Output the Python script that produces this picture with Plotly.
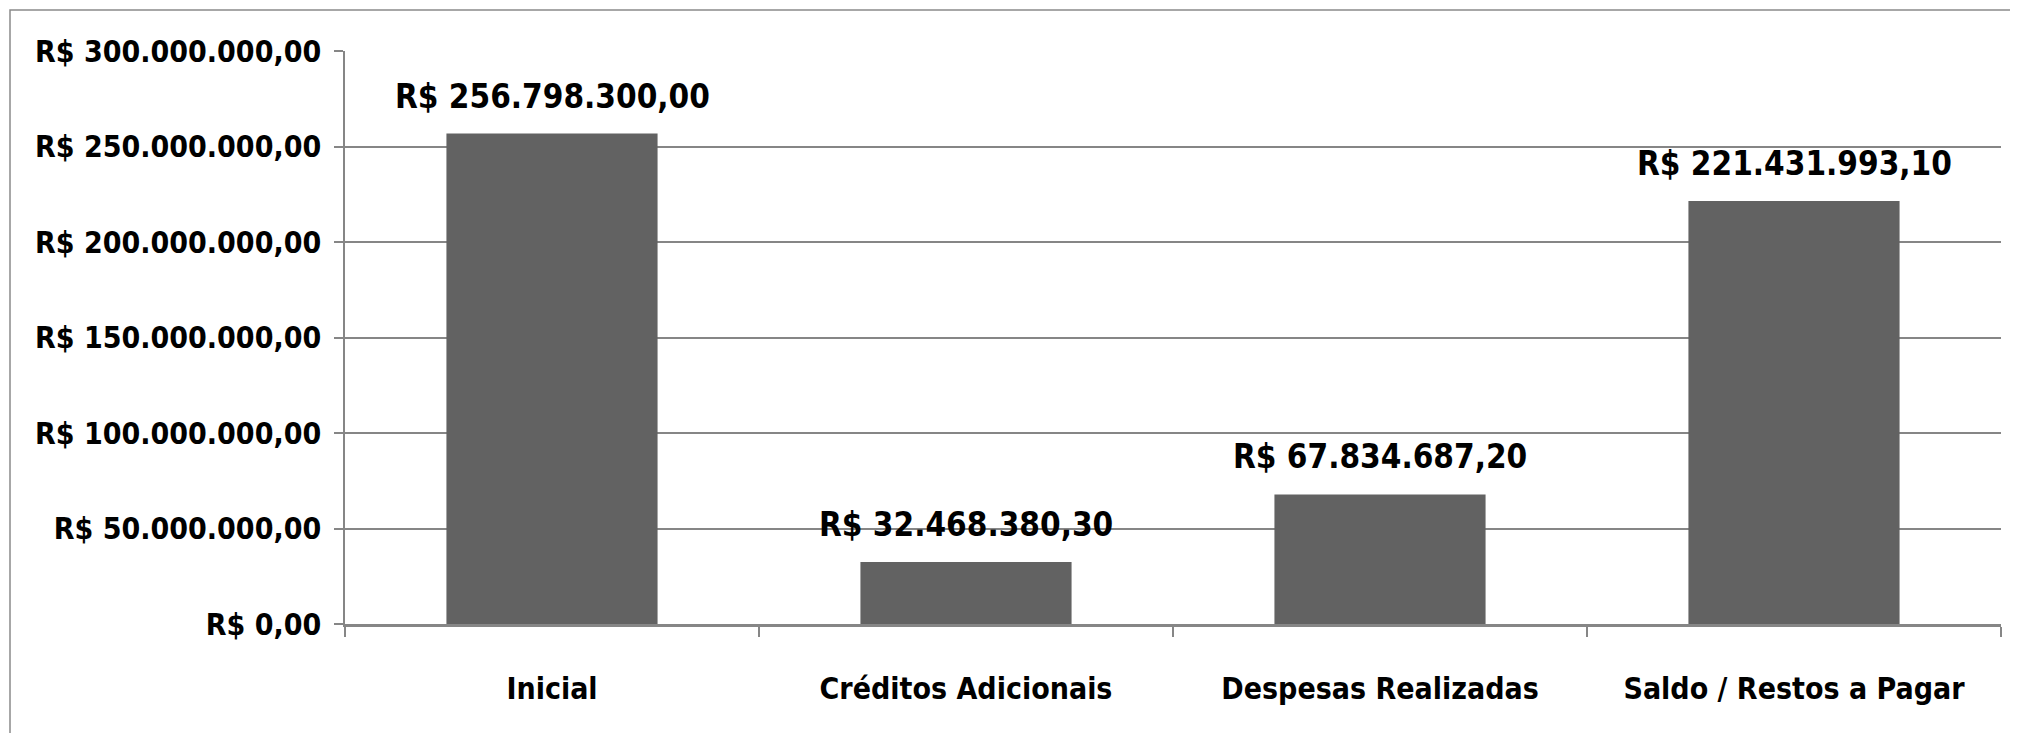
import plotly.graph_objects as go

categories = ["Inicial", "Créditos Adicionais", "Despesas Realizadas", "Saldo / Restos a Pagar"]
values = [256798300.00, 32468380.30, 67834687.20, 221431993.10]
tick_values = [0, 50000000, 100000000, 150000000, 200000000, 250000000, 300000000]
tick_labels = ["R$ 0,00", "R$ 50.000.000,00", "R$ 100.000.000,00", "R$ 150.000.000,00",
               "R$ 200.000.000,00", "R$ 250.000.000,00", "R$ 300.000.000,00"]


def brl(v):
    s = f"{v:,.2f}"
    s = s.replace(",", "X").replace(".", ",").replace("X", ".")
    return "R$ " + s


FONT = "DejaVu Sans Condensed, DejaVu Sans, sans-serif"
AXIS = "#868686"

fig = go.Figure()
fig.add_trace(go.Bar(x=categories, y=values, marker=dict(color="#626262", line=dict(width=0)),
                     hoverinfo="skip"))

for c, v in zip(categories, values):
    fig.add_annotation(x=c, y=v, text="<b>" + brl(v) + "</b>", showarrow=False,
                       yanchor="bottom", yshift=16,
                       font=dict(family=FONT, size=33, color="black"))

# page body has an 8px margin; compensate so the plot lands where the reference has it
OFF = 8
W, H = 2018, 733
L, R, T, B = 345 - OFF, 17 + OFF, 51 - OFF, 109 + OFF
pw, ph = W - L - R, H - T - B

fig.add_shape(type="rect", xref="paper", yref="paper",
              x0=(10 - OFF - L) / pw, x1=(W + 20 - L) / pw,
              y0=-(B + 30) / ph, y1=1 + (T - (10 - OFF)) / ph,
              line=dict(color="#8a8a8a", width=1.5), fillcolor="rgba(0,0,0,0)", layer="below")

fig.update_layout(
    width=W, height=H,
    margin=dict(l=L, r=R, t=T, b=B),
    paper_bgcolor="white", plot_bgcolor="white",
    bargap=0.49,
    showlegend=False,
    font=dict(family=FONT, color="black"),
)
fig.update_xaxes(
    type="category", tickson="boundaries",
    ticks="outside", ticklen=10, tickwidth=1.5, tickcolor=AXIS,
    showline=True, linecolor=AXIS, linewidth=2.5,
    showgrid=False,
    tickfont=dict(family=FONT, size=30, color="black"),
    tickvals=categories, ticktext=["<b>" + c + "</b>" for c in categories],
    ticklabelstandoff=36,
)
fig.update_yaxes(
    range=[0, 300000000],
    tickvals=tick_values, ticktext=["<b>" + t + "</b>" for t in tick_labels],
    ticks="outside", ticklen=9, tickwidth=1.5, tickcolor=AXIS,
    showline=True, linecolor=AXIS, linewidth=1.5,
    showgrid=True, gridcolor=AXIS, gridwidth=1.5,
    zeroline=False,
    tickfont=dict(family=FONT, size=30, color="black"),
    ticklabelstandoff=7,
)

fig.write_html("out.html")
